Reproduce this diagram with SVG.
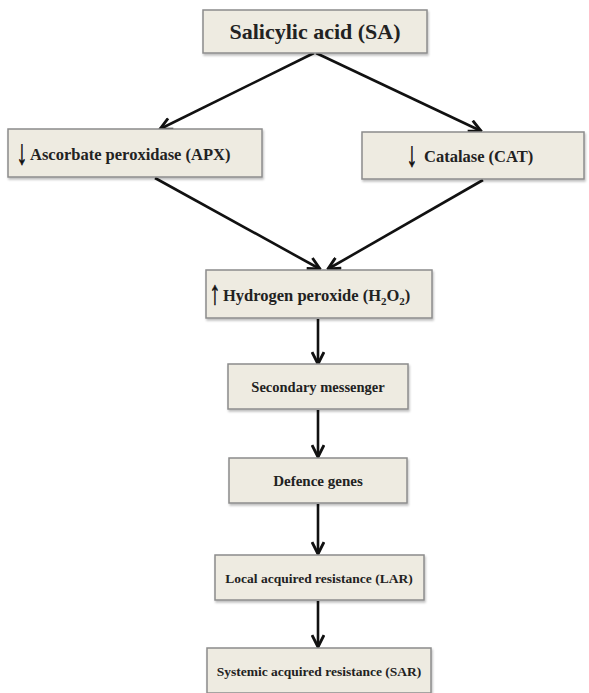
<svg xmlns="http://www.w3.org/2000/svg" width="589" height="693" viewBox="0 0 589 693">
<defs>
<marker id="ah" viewBox="0 0 12 12" refX="11" refY="6" markerWidth="5.5" markerHeight="5.5" orient="auto" markerUnits="strokeWidth">
<path d="M1,1 L11,6 L1,11" fill="none" stroke="#111" stroke-width="2.4" stroke-linejoin="miter"/>
</marker>
<filter id="sh" x="-5%" y="-10%" width="110%" height="130%">
<feDropShadow dx="1" dy="2" stdDeviation="1.2" flood-color="#000" flood-opacity="0.25"/>
</filter>
</defs>
<style>
.box{fill:#eeebe1;stroke:#8c8c8c;stroke-width:1.5;filter:url(#sh)}
.t{font-family:"Liberation Serif","Times New Roman",serif;font-weight:bold;fill:#222;font-size:16.5px}
.c{text-anchor:middle}
.ar{font-family:"Liberation Serif","Times New Roman",serif;font-weight:normal;font-size:24px;fill:#111;stroke:#111;stroke-width:0.5;text-anchor:middle}
.con{stroke:#111;stroke-width:2.6;fill:none;marker-end:url(#ah)}
</style>
<rect width="589" height="693" fill="#fff"/>
<g id="connectors">
<line class="con" x1="314" y1="53" x2="160" y2="129"/>
<line class="con" x1="316" y1="53" x2="481" y2="131"/>
<line class="con" x1="155" y1="178" x2="320" y2="269"/>
<line class="con" x1="483" y1="180" x2="328" y2="269"/>
<line class="con" x1="318" y1="319" x2="318" y2="364"/>
<line class="con" x1="318" y1="410" x2="318" y2="457"/>
<line class="con" x1="318" y1="504" x2="318" y2="554"/>
<line class="con" x1="318" y1="601" x2="318" y2="647"/>
</g>
<g id="sa">
<rect class="box" x="203" y="10" width="224" height="43"/>
<text class="t c" x="315" y="39" style="font-size:22px">Salicylic acid (SA)</text>
</g>
<g id="apx">
<rect class="box" x="8" y="129" width="254" height="48"/>
<text class="ar" transform="translate(22,164) scale(0.9,1.45)">↓</text>
<text class="t" x="30" y="160">Ascorbate peroxidase (APX)</text>
</g>
<g id="cat">
<rect class="box" x="362" y="132" width="222" height="47"/>
<text class="ar" transform="translate(412,166) scale(0.9,1.45)">↓</text>
<text class="t" x="424" y="162">Catalase (CAT)</text>
</g>
<g id="h2o2">
<rect class="box" x="206" y="270" width="226" height="48"/>
<text class="ar" transform="translate(215,304) scale(0.9,1.4)">↑</text>
<text class="t" x="223" y="301">Hydrogen peroxide (H<tspan font-size="11" dy="4">2</tspan><tspan dy="-4">O</tspan><tspan font-size="11" dy="4">2</tspan><tspan dy="-4">)</tspan></text>
</g>
<g id="secondary">
<rect class="box" x="228" y="364" width="180" height="45"/>
<text class="t c" x="318" y="392" style="font-size:14.5px">Secondary messenger</text>
</g>
<g id="defence">
<rect class="box" x="229" y="458" width="178" height="45"/>
<text class="t c" x="318" y="486" style="font-size:15px">Defence genes</text>
</g>
<g id="lar">
<rect class="box" x="215" y="555" width="209" height="45"/>
<text class="t c" x="319" y="583" style="font-size:13.5px">Local acquired resistance (LAR)</text>
</g>
<g id="sar">
<rect class="box" x="207" y="648" width="224" height="45"/>
<text class="t c" x="319" y="676" style="font-size:13.5px">Systemic acquired resistance (SAR)</text>
</g>
</svg>
